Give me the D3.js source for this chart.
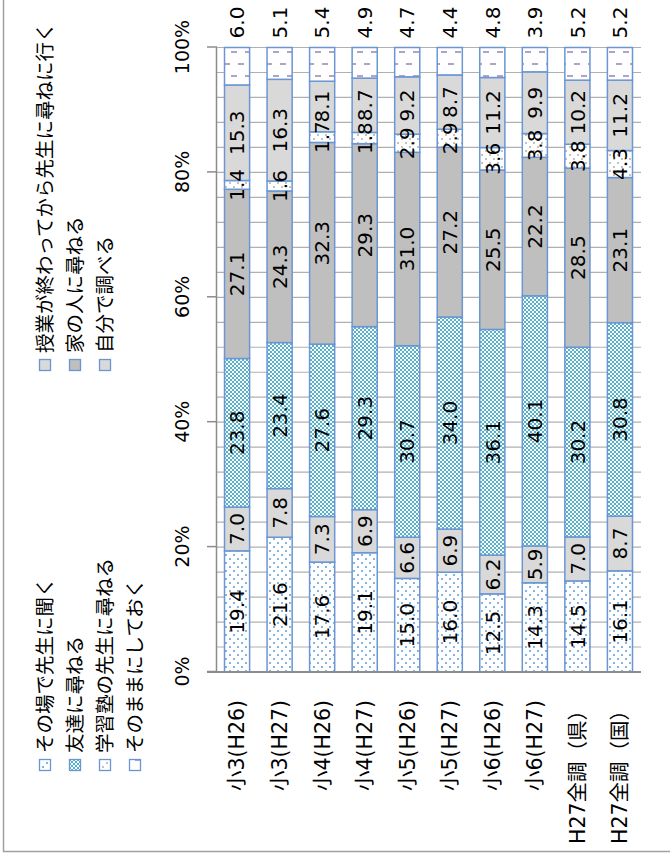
<!DOCTYPE html>
<html>
<head>
<meta charset="utf-8">
<script src="https://cdn.jsdelivr.net/npm/d3@7"></script>
<style>
  body { margin: 0; background: #fff; }
  svg { display: block; }
  text { font-family: "DejaVu Sans", "Noto Sans CJK JP", sans-serif; fill: #000; }
</style>
</head>
<body>
<div id="chart"></div>
<script>
var categories = ["小3(H26)", "小3(H27)", "小4(H26)", "小4(H27)", "小5(H26)",
                  "小5(H27)", "小6(H26)", "小6(H27)", "H27全調（県）", "H27全調（国）"];

var seriesNames = ["その場で先生に聞く", "授業が終わってから先生に尋ねに行く", "友達に尋ねる",
                   "家の人に尋ねる", "学習塾の先生に尋ねる", "自分で調べる", "そのままにしておく"];

var sonoba   = [19.4, 21.6, 17.6, 19.1, 15.0, 16.0, 12.5, 14.3, 14.5, 16.1];
var jugyougo = [7.0, 7.8, 7.3, 6.9, 6.6, 6.9, 6.2, 5.9, 7.0, 8.7];
var tomodachi = [23.8, 23.4, 27.6, 29.3, 30.7, 34.0, 36.1, 40.1, 30.2, 30.8];
var ienohito = [27.1, 24.3, 32.3, 29.3, 31.0, 27.2, 25.5, 22.2, 28.5, 23.1];
var juku     = [1.4, 1.6, 1.7, 1.8, 2.9, 2.9, 3.6, 3.8, 3.8, 4.3];
var jibun    = [15.3, 16.3, 8.1, 8.7, 9.2, 8.7, 11.2, 9.9, 10.2, 11.2];
var sonomama = [6.0, 5.1, 5.4, 4.9, 4.7, 4.4, 4.8, 3.9, 5.2, 5.2];

var valueTicks = [0, 0.2, 0.4, 0.6, 0.8, 1.0];

var seriesValues = [sonoba, jugyougo, tomodachi, ienohito, juku, jibun, sonomama];

// the chart is drawn as a horizontal bar chart and then turned 90deg to the left
var W = 861, H = 670;

var svg = d3.select("#chart").append("svg")
  .attr("width", 670)
  .attr("height", 861);

var defs = svg.append("defs");

// fills
var p1 = defs.append("pattern").attr("id", "pat0").attr("patternUnits", "userSpaceOnUse")
  .attr("width", 8).attr("height", 8);
p1.append("rect").attr("width", 8).attr("height", 8).attr("fill", "#fff");
p1.append("circle").attr("cx", 2).attr("cy", 2).attr("r", 1).attr("fill", "#5b9bd5");
p1.append("circle").attr("cx", 6).attr("cy", 6).attr("r", 1).attr("fill", "#5b9bd5");

var p3 = defs.append("pattern").attr("id", "pat2").attr("patternUnits", "userSpaceOnUse")
  .attr("width", 4).attr("height", 4);
p3.append("rect").attr("width", 4).attr("height", 4).attr("fill", "#52b2cc");
p3.append("rect").attr("width", 2).attr("height", 2).attr("fill", "#fff");
p3.append("rect").attr("x", 2).attr("y", 2).attr("width", 2).attr("height", 2).attr("fill", "#fff");

var p5 = defs.append("pattern").attr("id", "pat4").attr("patternUnits", "userSpaceOnUse")
  .attr("width", 8).attr("height", 8);
p5.append("rect").attr("width", 8).attr("height", 8).attr("fill", "#fff");
p5.append("circle").attr("cx", 2).attr("cy", 2).attr("r", 0.9).attr("fill", "#a6a6a6");
p5.append("circle").attr("cx", 6).attr("cy", 6).attr("r", 0.9).attr("fill", "#a6a6a6");

var p7 = defs.append("pattern").attr("id", "pat6").attr("patternUnits", "userSpaceOnUse")
  .attr("width", 24).attr("height", 14);
p7.append("rect").attr("width", 24).attr("height", 14).attr("fill", "#fff");
p7.append("rect").attr("x", 4).attr("y", 0).attr("width", 2).attr("height", 6).attr("fill", "#b3a2c7");
p7.append("rect").attr("x", 16).attr("y", 7).attr("width", 2).attr("height", 6).attr("fill", "#b3a2c7");

var fills = ["url(#pat0)", "#d9d9d9", "url(#pat2)", "#bfbfbf", "url(#pat4)", "#d9d9d9", "url(#pat6)"];
var barStroke = "#6a96d4";

// outer frame (only left and bottom edges are inside the picture)
svg.append("rect")
  .attr("x", 3.5).attr("y", -10)
  .attr("width", 700).attr("height", 861.5)
  .attr("fill", "none").attr("stroke", "#a0a0a0").attr("stroke-width", 1.5);

var g = svg.append("g").attr("transform", "translate(0," + W + ") rotate(-90)");

var x = d3.scaleLinear().domain([0, 1]).range([189, 813.5]);
var y = d3.scaleBand().domain(categories).range([216, 641]).paddingInner(0.41).paddingOuter(0.2);

// grid lines every 4%
var grid = d3.range(0, 26).map(function(i) { return i / 25; });
g.append("g").selectAll("line")
  .data(grid.slice(1))
  .enter().append("line")
  .attr("x1", function(d) { return x(d); })
  .attr("x2", function(d) { return x(d); })
  .attr("y1", 216).attr("y2", 641)
  .attr("stroke", "#b0b0b0").attr("stroke-width", 1.2);

// value axis
var xAxis = d3.axisTop(x).tickValues(valueTicks).tickFormat(d3.format(".0%")).tickSize(10).tickPadding(0);
var ax = g.append("g").attr("transform", "translate(0,217)").call(xAxis);
ax.select(".domain").remove();
ax.selectAll(".tick line").attr("stroke", "#8c8c8c").attr("stroke-width", 1.5);
ax.selectAll(".tick text")
  .attr("y", -35).attr("dy", "0.35em")
  .style("font-size", "19px")
  .style("font-family", "DejaVu Sans, Noto Sans CJK JP, sans-serif");

// stacked data
var rows = categories.map(function(c, i) {
  var r = { cat: c };
  seriesNames.forEach(function(s, j) { r[s] = seriesValues[j][i]; });
  return r;
});
var stack = d3.stack().keys(seriesNames).offset(d3.stackOffsetExpand);
var layers = stack(rows);

var lg = g.selectAll(".layer")
  .data(layers)
  .enter().append("g")
  .attr("class", "layer");

lg.selectAll("rect")
  .data(function(d) { return d; })
  .enter().append("rect")
  .attr("x", function(d) { return x(d[0]); })
  .attr("width", function(d) { return x(d[1]) - x(d[0]); })
  .attr("y", function(d) { return y(d.data.cat); })
  .attr("height", y.bandwidth())
  .attr("fill", function(d, i, nodes) { return fills[d3.select(nodes[i].parentNode).datum().index]; })
  .attr("stroke", barStroke)
  .attr("stroke-width", 1.5);

// category axis line
g.append("line")
  .attr("x1", x(0)).attr("x2", x(0))
  .attr("y1", 207).attr("y2", 641)
  .attr("stroke", "#8c8c8c").attr("stroke-width", 2);
g.append("line")
  .attr("x1", x(0)).attr("x2", x(1))
  .attr("y1", 216.5).attr("y2", 216.5)
  .attr("stroke", "#8c8c8c").attr("stroke-width", 1.5);

// category labels
g.append("g").selectAll("text")
  .data(categories)
  .enter().append("text")
  .attr("x", 161)
  .attr("y", function(d) { return y(d) + y.bandwidth() / 2; })
  .attr("dy", "0.36em")
  .attr("text-anchor", "end")
  .style("font-size", "20.5px")
  .text(function(d) { return d; });

// data labels
layers.forEach(function(layer, j) {
  g.append("g").selectAll("text")
    .data(layer)
    .enter().append("text")
    .attr("x", function(d) {
      if (j === layers.length - 1) return x(1) + 25;
      return (x(d[0]) + x(d[1])) / 2;
    })
    .attr("y", function(d) { return y(d.data.cat) + y.bandwidth() / 2; })
    .attr("dy", "0.36em")
    .attr("text-anchor", "middle")
    .style("font-size", "20px")
    .text(function(d) { return d3.format(".1f")(d.data[layer.key]); });
});

// legend
var legendPos = [
  { x: 96, y: 45 }, { x: 496, y: 45 },
  { x: 96, y: 75 }, { x: 496, y: 75 },
  { x: 96, y: 105 }, { x: 496, y: 105 },
  { x: 96, y: 135 }
];
var leg = g.append("g").selectAll("g")
  .data(seriesNames)
  .enter().append("g")
  .attr("transform", function(d, i) { return "translate(" + legendPos[i].x + "," + legendPos[i].y + ")"; });
leg.append("rect")
  .attr("x", -5.5).attr("y", -5.5).attr("width", 11).attr("height", 11)
  .attr("fill", function(d, i) { return fills[i]; })
  .attr("stroke", barStroke).attr("stroke-width", 1.3);
leg.append("text")
  .attr("x", 12).attr("dy", "0.36em")
  .style("font-size", "19.5px")
  .text(function(d) { return d; });
</script>
</body>
</html>
